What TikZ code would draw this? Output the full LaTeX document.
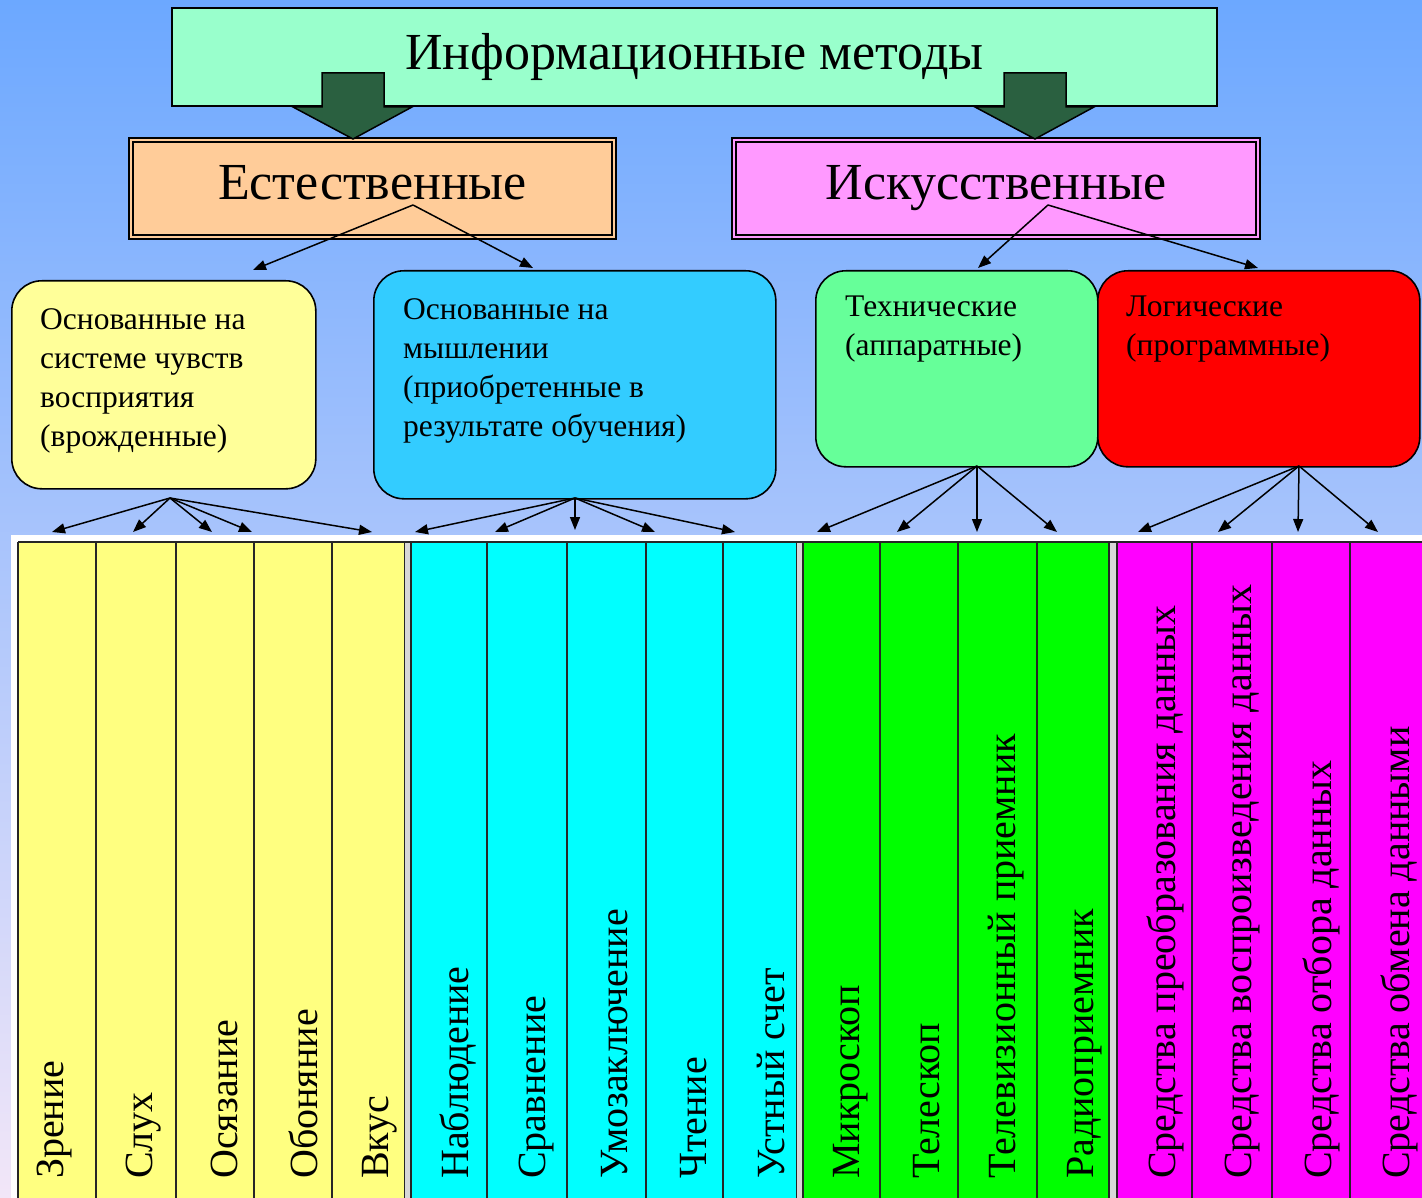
\documentclass[tikz,border=0pt]{standalone}
\usepackage{fontspec}
\setmainfont{Liberation Serif}
\usetikzlibrary{arrows.meta}
\definecolor{bgtop}{RGB}{108,168,255}
\definecolor{bgbot}{RGB}{242,230,248}
\definecolor{mint}{RGB}{153,255,204}
\definecolor{peach}{RGB}{255,204,153}
\definecolor{pinkb}{RGB}{255,153,255}
\definecolor{yellowb}{RGB}{255,255,153}
\definecolor{cyanb}{RGB}{51,204,255}
\definecolor{greenb}{RGB}{102,255,153}
\definecolor{redb}{RGB}{255,0,0}
\definecolor{ycell}{RGB}{255,255,128}
\definecolor{ccell}{RGB}{0,255,255}
\definecolor{gcell}{RGB}{0,255,0}
\definecolor{mcell}{RGB}{255,0,255}
\definecolor{darkgr}{RGB}{42,96,64}
\definecolor{sepgray}{RGB}{215,215,215}
\begin{document}
\begin{tikzpicture}[x=1pt,y=-1pt,
  titlebox/.style={draw=black, line width=2pt, fill=mint, inner sep=0pt,
    font=\fontsize{52}{60}\selectfont},
  dbox/.style={draw=black, line width=1.6pt, double=#1, double distance=2.8pt, fill=#1,
    inner sep=0pt, font=\fontsize{52}{60}\selectfont, text depth=12pt},
  rbox/.style={draw=black, line width=1.6pt, rounded corners=30pt, fill=#1, inner sep=0pt},
  btext/.style={inner sep=0pt, align=left, font=\fontsize{31.5}{39}\selectfont},
  blockarrow/.style={draw=black, line width=1.5pt, fill=darkgr},
  conn/.style={line width=1.5pt, -{Triangle[length=13pt,width=10pt]}},
  cellline/.style={draw=black!85, line width=1.8pt},
  sepline/.style={draw=black!85, line width=1.5pt, fill=sepgray},
  coltext/.style={inner sep=0pt, rotate=90, anchor=west, font=\fontsize{40}{44}\selectfont},
]
\useasboundingbox (0,0) rectangle (1422,1198);
\shade[top color=bgtop, bottom color=bgbot] (0,0) rectangle (1422,1198);

% title
\node[titlebox, minimum width=1045pt, minimum height=98pt] (title) at (694.5,57) {Информационные методы};

% second level boxes
\node[dbox=peach, minimum width=483pt, minimum height=97pt] (nat) at (372.5,188.5) {Естественные};
\node[dbox=pinkb, minimum width=524pt, minimum height=97pt] (art) at (996,188.5) {Искусственные};

% big green arrows
\draw[blockarrow] (322,73) -- (384,73) -- (384,107) -- (412,107) -- (353,139) -- (293,107) -- (322,107) -- cycle;
\draw[blockarrow] (1004,73) -- (1066,73) -- (1066,107) -- (1094,107) -- (1035,139) -- (975,107) -- (1004,107) -- cycle;

% rounded boxes
\node[rbox=yellowb, minimum width=304pt, minimum height=208pt, anchor=north west] (yb) at (11,280) {};
\node[rbox=cyanb, minimum width=402pt, minimum height=228pt, anchor=north west] (cb) at (373,270) {};
\node[rbox=greenb, minimum width=282pt, minimum height=196pt, anchor=north west] (gb) at (815,270) {};
\node[rbox=redb, minimum width=322pt, minimum height=196pt, anchor=north west] (rb) at (1097,270) {};

\node[btext, anchor=north west] (ybt) at (40,308) {Основанные на\\системе чувств\\восприятия\\(врожденные)};
\node[btext, anchor=north west] (cbt) at (403,298) {Основанные на\\мышлении\\(приобретенные в\\результате обучения)};
\node[btext, anchor=north west] (gbt) at (845,296) {Технические\\(аппаратные)};
\node[btext, anchor=north west] (rbt) at (1126,296) {Логические\\(программные)};

% connectors from second level
\coordinate (natapex) at (413,205);
\coordinate (artapex) at (1048,205);
\coordinate (natL) at (253,270);
\coordinate (natR) at (533,268);
\coordinate (artL) at (978,268);
\coordinate (artR) at (1258,268);
\draw[conn] (natapex) -- (natL);
\draw[conn] (natapex) -- (natR);
\draw[conn] (artapex) -- (artL);
\draw[conn] (artapex) -- (artR);

% table
\fill[white] (11,535) rectangle (1422,1198);
\fill[ycell] (18,542) rectangle (405,1205);
\fill[ccell] (411,542) rectangle (797,1205);
\fill[gcell] (803,542) rectangle (1109,1205);
\fill[mcell] (1117,542) rectangle (1430,1205);
\draw[cellline] (18,542) -- (1430,542);
\draw[cellline] (18,542) -- (18,1205);
\foreach \xx in {96,176,254,332,487,567,646,723,880,958,1037,1192,1272,1350}
  \draw[cellline] (\xx,542) -- (\xx,1205);
\foreach \aa/\bb in {404.5/411,796.5/803,1109/1117}
  \draw[sepline] (\aa,542) rectangle (\bb,1205);

% column texts
\node[coltext] (t1) at (55,1179) {Зрение};
\node[coltext] (t2) at (144,1179) {Слух};
\node[coltext] (t3) at (224,1179) {Осязание};
\node[coltext] (t4) at (303,1179) {Обоняние};
\node[coltext] (t5) at (380,1179) {Вкус};
\node[coltext] (t6) at (458,1179) {Наблюдение};
\node[coltext] (t7) at (537,1179) {Сравнение};
\node[coltext] (t8) at (615,1179) {Умозаключение};
\node[coltext] (t9) at (694,1179) {Чтение};
\node[coltext] (t10) at (771,1179) {Устный счет};
\node[coltext] (t11) at (851,1179) {Микроскоп};
\node[coltext] (t12) at (927,1179) {Телескоп};
\node[coltext] (t13) at (1006,1179) {Телевизионный приемник};
\node[coltext] (t14) at (1085,1179) {Радиоприемник};
\node[coltext] (t15) at (1165,1179) {Средства преобразования данных};
\node[coltext] (t16) at (1243,1179) {Средства воспроизведения данных};
\node[coltext] (t17) at (1321,1179) {Средства отбора данных};
\node[coltext] (t18) at (1399,1179) {Средства обмена данными};

% connectors from rounded boxes to columns
\coordinate (ys) at (170,498);
\coordinate (cs) at (575,498);
\coordinate (gs) at (977,466);
\coordinate (rs) at (1299,466);
\foreach \tx/\ty in {52/532,133/532,212/532,252/532,372/532}
  \draw[conn] (ys) -- (\tx,\ty);
\foreach \tx/\ty in {415/532,495/532,575/530,655/532,735/532}
  \draw[conn] (cs) -- (\tx,\ty);
\foreach \tx/\ty in {817/532,897/532,977/532,1057/532}
  \draw[conn] (gs) -- (\tx,\ty);
\foreach \tx/\ty in {1138/532,1218/532,1298/532,1378/532}
  \draw[conn] (rs) -- (\tx,\ty);
\end{tikzpicture}
\end{document}
